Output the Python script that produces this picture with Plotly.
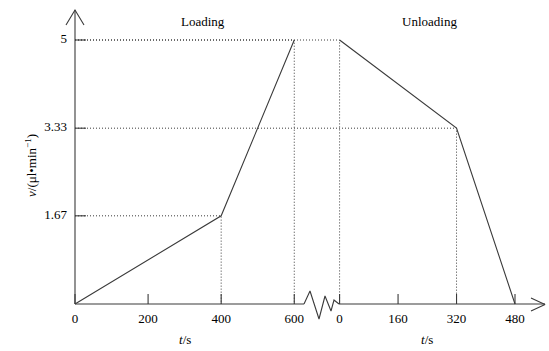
import plotly.graph_objects as go

# ---- data ----
load_t = [0, 400, 600]
load_v = [0, 1.67, 5]
unload_t = [0, 320, 480]
unload_v = [5, 3.33, 0]
load_ticks = [0, 200, 400, 600]
unload_ticks = [0, 160, 320, 480]
y_ticks = [1.67, 3.33, 5]
y_ticktext = ["1.67", "3.33", "5"]

# ---- layout constants ----
W, H = 549, 351
X0PX, Y0PX = 75, 304          # pixel position of origin
XENDPX, YTOPPX = 515, 40      # pixel position of last unloading tick / v=5
GAP = 124                     # axis units for the break
OFF = load_t[-1] + GAP
XMAX = OFF + unload_t[-1]
YMAX = 5
sx = (XENDPX - X0PX) / XMAX
sy = (Y0PX - YTOPPX) / YMAX
LC = "#3a3a3a"
FONT = "Liberation Serif, Times New Roman, Tinos, serif"


def px_x(p):
    return (p - X0PX) / sx


def px_y(p):
    return (Y0PX - p) / sy


def line(xs, ys, dash=None, width=1.1):
    fig.add_trace(go.Scatter(x=xs, y=ys, mode="lines", hoverinfo="skip",
                             line=dict(color=LC, width=width, dash=dash)))


fig = go.Figure()

# dotted guides
gx, gy = [], []
for t, v in list(zip(load_t, load_v)) + [(OFF + t, v) for t, v in zip(unload_t, unload_v)]:
    if t == 0 or v == 0:
        continue
    gx += [0, t, t, None]
    gy += [v, v, 0, None]
line(gx, gy, dash="1px,2px", width=1)

# main curves
line(load_t, load_v)
line([OFF + t for t in unload_t], unload_v)

# axes with arrows and break
ax_x = [0, px_x(304), None, px_x(339), px_x(545), None,
        px_x(531), px_x(545), px_x(531), None,
        0, 0, None, px_x(66), 0, px_x(84)]
ax_y = [0, 0, None, 0, 0, None,
        px_y(298), px_y(304.5), px_y(311), None,
        0, px_y(10), None, px_y(25), px_y(10), px_y(25)]
line(ax_x, ax_y)

zz = [(304, 304), (310, 291), (319, 319), (325, 296), (331, 311), (334, 300), (339, 304)]
line([px_x(a) for a, b in zz], [px_y(b) for a, b in zz])

# ticks
xtv = load_ticks + [OFF + t for t in unload_ticks]
xtt = [str(t) for t in load_ticks] + [str(t) for t in unload_ticks]
tx, ty = [], []
for v in xtv:
    tx += [v, v, None]
    ty += [0, px_y(294), None]
for v in y_ticks:
    tx += [0, px_x(86), None]
    ty += [v, v, None]
line(tx, ty)

# tick labels
fig.add_trace(go.Scatter(x=xtv, y=[px_y(320)] * len(xtv), mode="text", text=xtt,
                         textposition="middle center", hoverinfo="skip",
                         textfont=dict(family=FONT, size=13, color="black")))
fig.add_trace(go.Scatter(x=[px_x(67)] * len(y_ticks), y=y_ticks, mode="text", text=y_ticktext,
                         textposition="middle left", hoverinfo="skip",
                         textfont=dict(family=FONT, size=13, color="black")))

fig.update_layout(
    width=W, height=H, margin=dict(l=0, r=0, t=0, b=0),
    plot_bgcolor="white", paper_bgcolor="white", showlegend=False,
    font=dict(family=FONT, size=13, color="black"),
    xaxis=dict(range=[px_x(0), px_x(W)], visible=False, fixedrange=True),
    yaxis=dict(range=[px_y(H), px_y(0)], visible=False, fixedrange=True),
    annotations=[
        dict(text="Loading", x=px_x(203), y=px_y(21), xref="x", yref="y", showarrow=False),
        dict(text="Unloading", x=px_x(429), y=px_y(21), xref="x", yref="y", showarrow=False),
        dict(text="<i>t</i>/s", x=load_t[-1] / 2, y=px_y(339), xref="x", yref="y", showarrow=False),
        dict(text="<i>t</i>/s", x=OFF + unload_t[-1] / 2, y=px_y(339), xref="x", yref="y", showarrow=False),
        dict(text="<i>v</i>/(μl•min<sup>−1</sup>)", x=px_x(31), y=px_y(166), xref="x", yref="y",
             showarrow=False, textangle=-90),
    ],
)

fig.write_html("out.html")
